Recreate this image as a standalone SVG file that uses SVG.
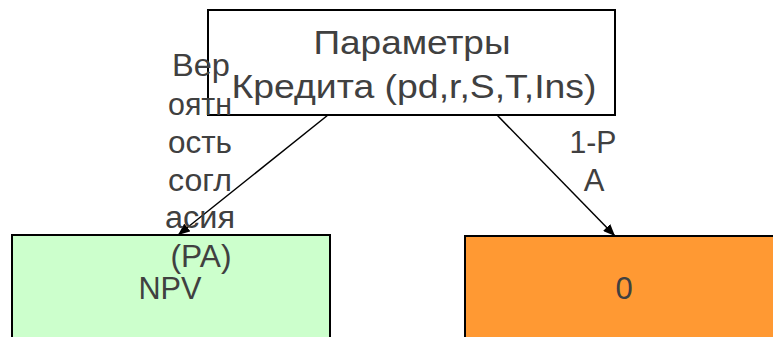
<svg xmlns="http://www.w3.org/2000/svg" width="773" height="337" viewBox="0 0 773 337">
  <style>
    .box { stroke: #000; stroke-width: 2; }
    .lbl { font-family: "Liberation Sans", Arial, sans-serif; fill: #404040; text-anchor: middle; }
    .big { font-size: 33px; }
    .mid { font-size: 31px; }
    .edge { stroke: #000; stroke-width: 1.5; fill: none; marker-end: url(#arrow); }
  </style>
  <defs>
    <marker id="arrow" viewBox="0 0 12 10" refX="12" refY="5" markerWidth="12" markerHeight="10" markerUnits="userSpaceOnUse" orient="auto">
      <path d="M0,0 L12,5 L0,10 Z" fill="#000"/>
    </marker>
  </defs>
  <rect width="773" height="337" fill="#fff"/>

  <g id="node-npv">
    <rect class="box" x="12" y="235" width="318" height="120" fill="#ccffcc"/>
    <text class="lbl mid" x="170" y="299" textLength="63" lengthAdjust="spacingAndGlyphs">NPV</text>
  </g>

  <g id="node-zero">
    <rect class="box" x="465" y="236" width="320" height="120" fill="#ff9933"/>
    <text class="lbl mid" x="624" y="299">0</text>
  </g>

  <g id="node-params">
    <rect class="box" x="208" y="10" width="407" height="105" fill="#fff"/>
    <text class="lbl big" x="412" y="54" textLength="197" lengthAdjust="spacingAndGlyphs">Параметры</text>
    <text class="lbl big" x="414" y="98" textLength="365" lengthAdjust="spacingAndGlyphs">Кредита (pd,r,S,T,Ins)</text>
  </g>

  <g id="connectors">
    <line class="edge" x1="328" y1="115" x2="178" y2="235"/>
    <line class="edge" x1="497" y1="115" x2="615" y2="236"/>
    <g class="lbl mid">
      <text x="201" y="76" textLength="58" lengthAdjust="spacingAndGlyphs">Вер</text>
      <text x="200" y="115" textLength="64" lengthAdjust="spacingAndGlyphs">оятн</text>
      <text x="200" y="153" textLength="64" lengthAdjust="spacingAndGlyphs">ость</text>
      <text x="200" y="191" textLength="64" lengthAdjust="spacingAndGlyphs">согл</text>
      <text x="200" y="228" textLength="70" lengthAdjust="spacingAndGlyphs">асия</text>
      <text x="201" y="267" textLength="61" lengthAdjust="spacingAndGlyphs">(PA)</text>
    </g>
    <g class="lbl mid">
      <text x="593" y="153" textLength="47" lengthAdjust="spacingAndGlyphs">1-P</text>
      <text x="594" y="191">A</text>
    </g>
  </g>
</svg>
